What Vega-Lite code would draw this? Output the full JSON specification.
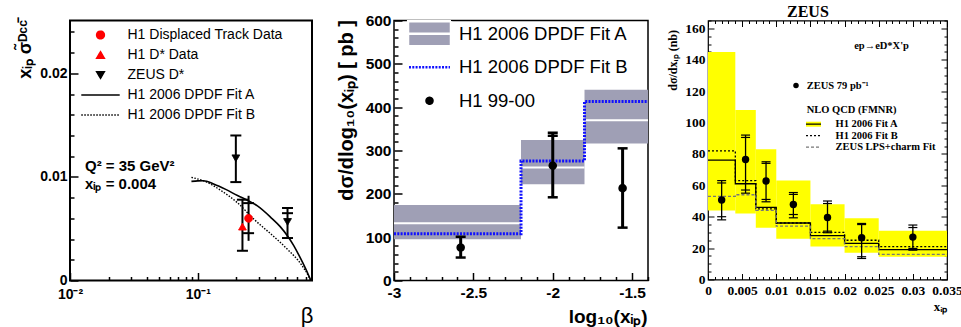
{
  "$schema": "https://vega.github.io/schema/vega-lite/v6.json",
  "background": "white",
  "padding": {"left": 14, "top": 2.5, "right": 0, "bottom": 0},
  "autosize": {"type": "pad"},
  "config": {
    "font": "Liberation Sans",
    "axis": {"grid": false, "domain": false, "tickColor": "black", "labelColor": "black", "titleColor": "black", "labelFlush": false, "labelOverlap": false, "labelBound": false, "titlePadding": 0},
    "legend": {"padding": 0, "labelColor": "black", "labelLimit": 0, "titleColor": "black"},
    "view": {"stroke": "black"}
  },
  "datasets": {
    "p1A": [{"beta":0.089,"val":0.00957},{"beta":0.1,"val":0.00962},{"beta":0.11,"val":0.00963},{"beta":0.134,"val":0.0093},{"beta":0.165,"val":0.0088},{"beta":0.204,"val":0.0082},{"beta":0.249,"val":0.0077},{"beta":0.292,"val":0.0072},{"beta":0.371,"val":0.0061},{"beta":0.44,"val":0.0052},{"beta":0.502,"val":0.0043},{"beta":0.56,"val":0.0034},{"beta":0.619,"val":0.0024},{"beta":0.698,"val":0.0011},{"beta":0.764,"val":0.0}],
    "p1B": [{"beta":0.089,"val":0.00995},{"beta":0.112,"val":0.0096},{"beta":0.151,"val":0.0087},{"beta":0.204,"val":0.0075},{"beta":0.275,"val":0.0059},{"beta":0.371,"val":0.0045},{"beta":0.502,"val":0.0030},{"beta":0.638,"val":0.0016},{"beta":0.741,"val":0.0003},{"beta":0.76,"val":0.0}],
    "p1pts": [
      {"series":"H1 Displaced Track Data","beta":0.249,"val":0.0060,"lo":0.00383,"hi":0.00818},
      {"series":"H1 D* Data","beta":0.223,"val":0.0052,"lo":0.00287,"hi":0.0078},
      {"series":"ZEUS D*","beta":0.198,"val":0.0118,"lo":0.0095,"hi":0.0140},
      {"series":"ZEUS D*","beta":0.502,"val":0.00565,"lo":0.0041,"hi":0.0070}
    ],
    "p1caps": [{"beta":0.249,"c":0.00457},{"beta":0.249,"c":0.00747},{"beta":0.223,"c":0.00287},{"beta":0.223,"c":0.0078},{"beta":0.198,"c":0.0095},{"beta":0.198,"c":0.0140},{"beta":0.502,"c":0.0041},{"beta":0.502,"c":0.0065},{"beta":0.502,"c":0.0070}],
    "p2bands": [{"x0":-3,"x1":-2.2,"lo":95,"hi":174,"mid":132},{"x0":-2.2,"x1":-1.8,"lo":222,"hi":324,"mid":261},{"x0":-1.8,"x1":-1.4,"lo":316,"hi":440,"mid":370}],
    "p2fitB": [{"x":-3,"v":108},{"x":-2.2,"v":276},{"x":-1.8,"v":413},{"x":-1.4,"v":413}],
    "p2pts": [{"series":"H1 99-00","x":-2.58,"v":76,"lo":53,"hi":101},{"series":"H1 99-00","x":-2.0,"v":265,"lo":192,"hi":341},{"series":"H1 99-00","x":-1.56,"v":213,"lo":122,"hi":305}],
    "p2caps": [{"x":-2.58,"c":53},{"x":-2.58,"c":101},{"x":-2.0,"c":192},{"x":-2.0,"c":334},{"x":-2.0,"c":341},{"x":-1.56,"c":122},{"x":-1.56,"c":305}],
    "p3bands": [{"x0":0,"x1":0.004,"lo":44,"hi":145,"band":"H1 2006 Fit A"},{"x0":0.004,"x1":0.007,"lo":42,"hi":108,"band":"H1 2006 Fit A"},{"x0":0.007,"x1":0.01,"lo":33,"hi":83,"band":"H1 2006 Fit A"},{"x0":0.01,"x1":0.015,"lo":26,"hi":63,"band":"H1 2006 Fit A"},{"x0":0.015,"x1":0.02,"lo":21,"hi":48,"band":"H1 2006 Fit A"},{"x0":0.02,"x1":0.025,"lo":17,"hi":39,"band":"H1 2006 Fit A"},{"x0":0.025,"x1":0.035,"lo":14.5,"hi":31,"band":"H1 2006 Fit A"}],
    "p3lines": [
      {"series":"H1 2006 Fit A","x":0,"v":76},{"series":"H1 2006 Fit A","x":0.004,"v":61},{"series":"H1 2006 Fit A","x":0.007,"v":46},{"series":"H1 2006 Fit A","x":0.01,"v":36},{"series":"H1 2006 Fit A","x":0.015,"v":28},{"series":"H1 2006 Fit A","x":0.02,"v":23},{"series":"H1 2006 Fit A","x":0.025,"v":19},{"series":"H1 2006 Fit A","x":0.035,"v":19},
      {"series":"H1 2006 Fit B","x":0,"v":82},{"series":"H1 2006 Fit B","x":0.004,"v":63},{"series":"H1 2006 Fit B","x":0.007,"v":45},{"series":"H1 2006 Fit B","x":0.01,"v":36},{"series":"H1 2006 Fit B","x":0.015,"v":30},{"series":"H1 2006 Fit B","x":0.02,"v":25},{"series":"H1 2006 Fit B","x":0.025,"v":21},{"series":"H1 2006 Fit B","x":0.035,"v":21},
      {"series":"ZEUS LPS+charm Fit","x":0,"v":53},{"series":"ZEUS LPS+charm Fit","x":0.004,"v":54},{"series":"ZEUS LPS+charm Fit","x":0.007,"v":44},{"series":"ZEUS LPS+charm Fit","x":0.01,"v":34},{"series":"ZEUS LPS+charm Fit","x":0.015,"v":26},{"series":"ZEUS LPS+charm Fit","x":0.02,"v":21},{"series":"ZEUS LPS+charm Fit","x":0.025,"v":16},{"series":"ZEUS LPS+charm Fit","x":0.035,"v":16}
    ],
    "p3pts": [
      {"series":"ZEUS  79 pb⁻¹","x":0.002,"v":50.6,"lo":38,"hi":63},
      {"series":"ZEUS  79 pb⁻¹","x":0.0055,"v":76.5,"lo":55,"hi":92},
      {"series":"ZEUS  79 pb⁻¹","x":0.0085,"v":62.7,"lo":49.5,"hi":75},
      {"series":"ZEUS  79 pb⁻¹","x":0.0125,"v":47.8,"lo":39.3,"hi":55.4},
      {"series":"ZEUS  79 pb⁻¹","x":0.0175,"v":39.5,"lo":29.8,"hi":50},
      {"series":"ZEUS  79 pb⁻¹","x":0.0225,"v":26.6,"lo":13.4,"hi":35.7},
      {"series":"ZEUS  79 pb⁻¹","x":0.03,"v":27,"lo":18.7,"hi":34.7}
    ],
    "p3caps": [
      {"x":0.002,"c":38},{"x":0.002,"c":40},{"x":0.002,"c":61.5},{"x":0.002,"c":63},
      {"x":0.0055,"c":55},{"x":0.0055,"c":57},{"x":0.0055,"c":90.5},{"x":0.0055,"c":92},
      {"x":0.0085,"c":49.5},{"x":0.0085,"c":51},{"x":0.0085,"c":74},{"x":0.0085,"c":75},
      {"x":0.0125,"c":39.3},{"x":0.0125,"c":41.4},{"x":0.0125,"c":54.2},{"x":0.0125,"c":55.4},
      {"x":0.0175,"c":29.8},{"x":0.0175,"c":30.8},{"x":0.0175,"c":48.4},{"x":0.0175,"c":50},
      {"x":0.0225,"c":13.4},{"x":0.0225,"c":14.5},{"x":0.0225,"c":35},{"x":0.0225,"c":35.7},
      {"x":0.03,"c":18.7},{"x":0.03,"c":19.8},{"x":0.03,"c":33.1},{"x":0.03,"c":34.7}
    ]
  },
  "bounds": "full",
  "spacing": 10,
  "resolve": {"scale": {"fill": "independent", "stroke": "independent", "shape": "independent", "strokeDash": "independent"}},
  "hconcat": [
    {
      "bounds": "flush",
      "spacing": 82,
      "resolve": {"scale": {"fill": "independent", "stroke": "independent", "shape": "independent", "strokeDash": "independent"}},
      "hconcat": [
        {
          "width": 242, "height": 260,
          "view": {"stroke": "black", "strokeWidth": 2},
          "resolve": {"axis": {"x": "independent", "y": "independent"}},
          "layer": [
            {
              "data": {"name": "p1A"},
              "mark": {"type": "line", "color": "black", "strokeWidth": 1.6, "interpolate": "monotone"},
              "encoding": {
                "x": {"field": "beta", "type": "quantitative", "scale": {"type": "log", "domain": [0.01, 0.78], "nice": false},
                  "axis": {"orient": "bottom", "values": [0.01, 0.1],
                    "labelExpr": "datum.value < 0.05 ? '10⁻²' : '10⁻¹'",
                    "tickSize": -8, "labelOverlap": false, "tickWidth": 1.5, "labelFont": "Liberation Sans", "labelFontWeight": "bold", "labelFontSize": 14, "labelPadding": 15, "labelBaseline": "top",
                    "title": "β", "titleFont": "Liberation Sans", "titleFontSize": 22, "titleFontWeight": "normal", "titleAnchor": "end", "titleAlign": "right", "titleBaseline": "alphabetic", "titleX": 243, "titleY": 42}},
                "y": {"field": "val", "type": "quantitative", "scale": {"domain": [0, 0.0251], "nice": false},
                  "axis": {"orient": "left", "values": [0, 0.01, 0.02],
                    "labelExpr": "datum.value == 0 ? '0' : (datum.value < 0.015 ? '0.01' : '0.02')",
                    "tickSize": -8, "labelOverlap": false, "tickWidth": 1.5, "labelFont": "Liberation Sans", "labelFontWeight": "bold", "labelFontSize": 14, "labelPadding": 11,
                    "title": "xᵢₚ σ̃ᴰᶜᶜ̄", "titleFont": "Liberation Sans", "titleFontSize": 18, "titleFontWeight": "bold", "titleAngle": -90, "titleAlign": "right", "titleBaseline": "middle", "titleX": -45, "titleY": -1}}
              }
            },
            {
              "data": {"name": "p1B"},
              "mark": {"type": "line", "color": "black", "strokeWidth": 1.4, "strokeDash": [1.5, 1.5], "interpolate": "monotone"},
              "encoding": {
                "x": {"field": "beta", "type": "quantitative",
                  "axis": {"orient": "bottom", "values": [0.02,0.03,0.04,0.05,0.06,0.07,0.08,0.09,0.2,0.3,0.4,0.5,0.6,0.7], "labels": false, "title": null, "tickSize": -4, "tickWidth": 1.5}},
                "y": {"field": "val", "type": "quantitative",
                  "axis": {"orient": "left", "values": [0.002,0.004,0.006,0.008,0.012,0.014,0.016,0.018,0.022,0.024], "labels": false, "title": null, "tickSize": -4, "tickWidth": 1.5}}
              }
            },
            {
              "data": {"name": "p1pts"},
              "mark": {"type": "rule", "color": "black", "strokeWidth": 2},
              "encoding": {"x": {"field": "beta", "type": "quantitative", "axis": null}, "y": {"field": "lo", "type": "quantitative", "axis": null}, "y2": {"field": "hi"}}
            },
            {
              "data": {"name": "p1caps"},
              "mark": {"type": "point", "shape": "stroke", "size": 121, "color": "black", "strokeWidth": 2, "opacity": 1},
              "encoding": {"x": {"field": "beta", "type": "quantitative", "axis": null}, "y": {"field": "c", "type": "quantitative", "axis": null}}
            },
            {
              "data": {"name": "p1pts"},
              "mark": {"type": "point", "size": 60, "opacity": 1, "strokeWidth": 1},
              "encoding": {
                "x": {"field": "beta", "type": "quantitative", "axis": null},
                "y": {"field": "val", "type": "quantitative", "axis": null},
                "fill": {"field": "series", "type": "nominal", "scale": {"domain": ["H1 Displaced Track Data", "H1 D* Data", "ZEUS D*", "H1 2006 DPDF Fit A", "H1 2006 DPDF Fit B"], "range": ["#ff0000", "#ff0000", "black", "transparent", "transparent"]},
                  "legend": {"orient": "none", "legendX": 23.5, "legendY": 7.5, "title": null, "symbolSize": 60, "symbolStrokeWidth": 1.5, "symbolOffset": 0, "labelOffset": 20, "labelFont": "Liberation Sans", "labelFontSize": 14, "rowPadding": 6, "padding": 0}},
                "stroke": {"field": "series", "type": "nominal", "scale": {"domain": ["H1 Displaced Track Data", "H1 D* Data", "ZEUS D*", "H1 2006 DPDF Fit A", "H1 2006 DPDF Fit B"], "range": ["#ff0000", "#ff0000", "black", "black", "black"]},
                  "legend": {"orient": "none", "legendX": 23.5, "legendY": 7.5, "title": null, "symbolSize": 60, "symbolStrokeWidth": 1.5, "symbolOffset": 0, "labelOffset": 20, "labelFont": "Liberation Sans", "labelFontSize": 14, "rowPadding": 6, "padding": 0}},
                "shape": {"field": "series", "type": "nominal", "scale": {"domain": ["H1 Displaced Track Data", "H1 D* Data", "ZEUS D*", "H1 2006 DPDF Fit A", "H1 2006 DPDF Fit B"], "range": ["circle", "triangle-up", "triangle-down", "M-4.96,0H4.96", "M-4.96,0H4.96"]},
                  "legend": {"orient": "none", "legendX": 23.5, "legendY": 7.5, "title": null, "symbolSize": 60, "symbolStrokeWidth": 1.5, "symbolOffset": 0, "labelOffset": 20, "labelFont": "Liberation Sans", "labelFontSize": 14, "rowPadding": 6, "padding": 0}},
                "strokeDash": {"field": "series", "type": "nominal", "scale": {"domain": ["H1 Displaced Track Data", "H1 D* Data", "ZEUS D*", "H1 2006 DPDF Fit A", "H1 2006 DPDF Fit B"], "range": [[1,0],[1,0],[1,0],[1,0],[1.5,1.5]]},
                  "legend": {"orient": "none", "legendX": 23.5, "legendY": 7.5, "title": null, "symbolSize": 60, "symbolStrokeWidth": 1.5, "symbolOffset": 0, "labelOffset": 20, "labelFont": "Liberation Sans", "labelFontSize": 14, "rowPadding": 6, "padding": 0}}
              }
            },
            {
              "data": {"values": [{"note": "Q² = 35 GeV²"}]},
              "mark": {"type": "text", "align": "left", "baseline": "alphabetic", "font": "Liberation Sans", "fontWeight": "bold", "fontSize": 15, "color": "black"},
              "encoding": {"x": {"datum": 0.0131, "axis": null}, "y": {"datum": 0.0106, "axis": null}, "text": {"field": "note"}}
            },
            {
              "data": {"values": [{"note": "xᵢₚ = 0.004"}]},
              "mark": {"type": "text", "align": "left", "baseline": "alphabetic", "font": "Liberation Sans", "fontWeight": "bold", "fontSize": 15, "color": "black"},
              "encoding": {"x": {"datum": 0.0131, "axis": null}, "y": {"datum": 0.0088, "axis": null}, "text": {"field": "note"}}
            }
          ]
        },
        {
          "width": 254, "height": 260,
          "view": {"stroke": "black", "strokeWidth": 1.5},
          "resolve": {"axis": {"x": "independent", "y": "independent"}},
          "layer": [
            {
              "data": {"name": "p2bands"},
              "mark": {"type": "rect", "color": "#9f9fb5"},
              "encoding": {
                "x": {"field": "x0", "type": "quantitative", "scale": {"domain": [-3, -1.4], "nice": false, "zero": false},
                  "axis": {"orient": "bottom", "values": [-3, -2.5, -2, -1.5],
                    "labelExpr": "'' + datum.value",
                    "tickSize": -8, "labelOverlap": false, "tickWidth": 1.5, "labelFont": "Liberation Sans", "labelFontWeight": "bold", "labelFontSize": 15.5, "labelPadding": 13, "labelBaseline": "top",
                    "title": "log₁₀(xᵢₚ)", "titleFont": "Liberation Sans", "titleFontSize": 19, "titleFontWeight": "bold", "titleAnchor": "end", "titleAlign": "right", "titleBaseline": "alphabetic", "titleX": 253, "titleY": 42}},
                "x2": {"field": "x1"},
                "y": {"field": "lo", "type": "quantitative", "scale": {"domain": [0, 600], "nice": false},
                  "axis": {"orient": "left", "values": [0, 100, 200, 300, 400, 500, 600],
                    "labelExpr": "'' + datum.value",
                    "tickSize": -8, "labelOverlap": false, "tickWidth": 1.5, "labelFont": "Liberation Sans", "labelFontWeight": "bold", "labelFontSize": 15.5, "labelPadding": 11,
                    "title": "dσ/dlog₁₀(xᵢₚ) [ pb ]", "titleFont": "Liberation Sans", "titleFontSize": 20, "titleFontWeight": "bold", "titleAngle": -90, "titleAlign": "right", "titleBaseline": "middle", "titleX": -48, "titleY": -1}},
                "y2": {"field": "hi"}
              }
            },
            {
              "data": {"name": "p2bands"},
              "mark": {"type": "rule", "color": "white", "strokeWidth": 2},
              "encoding": {
                "x": {"field": "x0", "type": "quantitative",
                  "axis": {"orient": "bottom", "values": [-2.9,-2.8,-2.7,-2.6,-2.4,-2.3,-2.2,-2.1,-1.9,-1.8,-1.7,-1.6,-1.4], "labels": false, "title": null, "tickSize": -4, "tickWidth": 1.5}},
                "x2": {"field": "x1"},
                "y": {"field": "mid", "type": "quantitative",
                  "axis": {"orient": "left", "values": [20,40,60,80,120,140,160,180,220,240,260,280,320,340,360,380,420,440,460,480,520,540,560,580], "labels": false, "title": null, "tickSize": -4, "tickWidth": 1.5}}
              }
            },
            {
              "data": {"name": "p2fitB"},
              "mark": {"type": "line", "color": "#1010ff", "strokeWidth": 3, "strokeDash": [2, 1.3], "interpolate": "step-after"},
              "encoding": {"x": {"field": "x", "type": "quantitative", "axis": null}, "y": {"field": "v", "type": "quantitative", "axis": null}}
            },
            {
              "data": {"name": "p2pts"},
              "mark": {"type": "rule", "color": "black", "strokeWidth": 3},
              "encoding": {"x": {"field": "x", "type": "quantitative", "axis": null}, "y": {"field": "lo", "type": "quantitative", "axis": null}, "y2": {"field": "hi"}}
            },
            {
              "data": {"name": "p2caps"},
              "mark": {"type": "point", "shape": "stroke", "size": 100, "color": "black", "strokeWidth": 2.5, "opacity": 1},
              "encoding": {"x": {"field": "x", "type": "quantitative", "axis": null}, "y": {"field": "c", "type": "quantitative", "axis": null}}
            },
            {
              "data": {"name": "p2pts"},
              "mark": {"type": "point", "size": 400, "opacity": 1, "strokeWidth": 2.5},
              "encoding": {
                "x": {"field": "x", "type": "quantitative", "axis": null},
                "y": {"field": "v", "type": "quantitative", "axis": null},
                "fill": {"field": "series", "type": "nominal", "scale": {"domain": ["H1 2006 DPDF Fit A", "H1 2006 DPDF Fit B", "H1 99-00"], "range": ["#9f9fb5", "transparent", "black"]},
                  "legend": {"orient": "none", "legendX": 12.75, "legendY": -0.5, "title": null, "clipHeight": 27.5, "symbolSize": 400, "symbolStrokeWidth": 2.5, "symbolOffset": 11.25, "labelOffset": 18, "labelFont": "Liberation Sans", "labelFontSize": 18.5, "rowPadding": 5.5, "padding": 0}},
                "stroke": {"field": "series", "type": "nominal", "scale": {"domain": ["H1 2006 DPDF Fit A", "H1 2006 DPDF Fit B", "H1 99-00"], "range": ["white", "#1010ff", "black"]},
                  "legend": {"orient": "none", "legendX": 12.75, "legendY": -0.5, "title": null, "clipHeight": 27.5, "symbolSize": 400, "symbolStrokeWidth": 2.5, "symbolOffset": 11.25, "labelOffset": 18, "labelFont": "Liberation Sans", "labelFontSize": 18.5, "rowPadding": 5.5, "padding": 0}},
                "shape": {"field": "series", "type": "nominal", "scale": {"domain": ["H1 2006 DPDF Fit A", "H1 2006 DPDF Fit B", "H1 99-00"], "range": ["M-2.15,-1.25H2.15V1.25H-2.15Z M-2.15,0H2.15", "M-2.05,0H2.05", "M-0.3,0A0.3,0.3,0,1,0,0.3,0A0.3,0.3,0,1,0,-0.3,0Z"]},
                  "legend": {"orient": "none", "legendX": 12.75, "legendY": -0.5, "title": null, "clipHeight": 27.5, "symbolSize": 400, "symbolStrokeWidth": 2.5, "symbolOffset": 11.25, "labelOffset": 18, "labelFont": "Liberation Sans", "labelFontSize": 18.5, "rowPadding": 5.5, "padding": 0}},
                "strokeDash": {"field": "series", "type": "nominal", "scale": {"domain": ["H1 2006 DPDF Fit A", "H1 2006 DPDF Fit B", "H1 99-00"], "range": [[1,0],[2,1.3],[1,0]]},
                  "legend": {"orient": "none", "legendX": 12.75, "legendY": -0.5, "title": null, "clipHeight": 27.5, "symbolSize": 400, "symbolStrokeWidth": 2.5, "symbolOffset": 11.25, "labelOffset": 18, "labelFont": "Liberation Sans", "labelFontSize": 18.5, "rowPadding": 5.5, "padding": 0}}
              }
            }
          ]
        }
      ]
    },
    {
      "width": 239, "height": 259,
      "view": {"stroke": "black", "strokeWidth": 1.2},
      "title": {"text": "ZEUS", "anchor": "start", "frame": "group", "dx": 79, "dy": 8.5, "font": "Liberation Serif", "fontSize": 16, "fontWeight": "bold", "offset": 2, "color": "black"},
      "resolve": {"axis": {"x": "independent", "y": "independent"}},
      "layer": [
        {
          "data": {"name": "p3bands"},
          "mark": {"type": "rect"},
          "encoding": {
            "x": {"field": "x0", "type": "quantitative", "scale": {"domain": [0, 0.035], "nice": false},
              "axis": {"orient": "bottom", "values": [0,0.001,0.002,0.003,0.004,0.005,0.006,0.007,0.008,0.009,0.01,0.011,0.012,0.013,0.014,0.015,0.016,0.017,0.018,0.019,0.02,0.021,0.022,0.023,0.024,0.025,0.026,0.027,0.028,0.029,0.03,0.031,0.032,0.033,0.034,0.035],
                "labelExpr": "abs(datum.value*200 - round(datum.value*200)) < 0.01 ? (datum.value == 0 ? '0' : format(datum.value, '.3~f')) : ''",
                "tickSize": {"condition": {"test": "abs(datum.value*200 - round(datum.value*200)) < 0.01", "value": -6}, "value": -3},
                "labelOverlap": false, "tickWidth": 1, "labelFont": "Liberation Serif", "labelFontWeight": "bold", "labelFontSize": 13.5, "labelPadding": 10, "labelBaseline": "top",
                "title": "xᵢₚ", "titleFont": "Liberation Serif", "titleFontSize": 13, "titleFontWeight": "bold", "titleAnchor": "end", "titleAlign": "right", "titleBaseline": "alphabetic", "titleX": 239, "titleY": 31}},
            "x2": {"field": "x1"},
            "y": {"field": "lo", "type": "quantitative", "scale": {"domain": [0, 165], "nice": false},
              "axis": {"orient": "left", "values": [0,5,10,15,20,25,30,35,40,45,50,55,60,65,70,75,80,85,90,95,100,105,110,115,120,125,130,135,140,145,150,155,160,165],
                "labelExpr": "datum.value % 20 == 0 ? '' + datum.value : ''",
                "tickSize": {"condition": {"test": "datum.value % 20 == 0", "value": -6}, "value": -3},
                "labelOverlap": false, "tickWidth": 1, "labelFont": "Liberation Serif", "labelFontWeight": "bold", "labelFontSize": 13.5, "labelPadding": 9,
                "title": "dσ/dxᵢₚ (nb)", "titleFont": "Liberation Serif", "titleFontSize": 12, "titleFontWeight": "bold", "titleAngle": -90, "titleAlign": "right", "titleBaseline": "middle", "titleX": -36, "titleY": 9}},
            "y2": {"field": "hi"},
            "fill": {"field": "band", "type": "nominal", "scale": {"domain": ["H1 2006 Fit A"], "range": ["#ffff00"]},
              "legend": {"orient": "none", "legendX": 98.7, "legendY": 98.45, "title": null, "symbolType": "M-3,-1H3V1H-3Z", "symbolSize": 25, "symbolStrokeWidth": 0, "symbolOffset": 1.55, "labelOpacity": 0, "labelFontSize": 10.5, "padding": 0}}
          }
        },
        {
          "data": {"name": "p3lines"},
          "mark": {"type": "line", "interpolate": "step-after", "strokeWidth": 1.3},
          "encoding": {
            "x": {"field": "x", "type": "quantitative",
              "axis": {"orient": "top", "values": [0,0.001,0.002,0.003,0.004,0.005,0.006,0.007,0.008,0.009,0.01,0.011,0.012,0.013,0.014,0.015,0.016,0.017,0.018,0.019,0.02,0.021,0.022,0.023,0.024,0.025,0.026,0.027,0.028,0.029,0.03,0.031,0.032,0.033,0.034,0.035],
                "labels": false, "title": null,
                "tickSize": {"condition": {"test": "abs(datum.value*200 - round(datum.value*200)) < 0.01", "value": -6}, "value": -3}, "tickWidth": 1}},
            "y": {"field": "v", "type": "quantitative",
              "axis": {"orient": "right", "values": [0,5,10,15,20,25,30,35,40,45,50,55,60,65,70,75,80,85,90,95,100,105,110,115,120,125,130,135,140,145,150,155,160,165],
                "labels": false, "title": null,
                "tickSize": {"condition": {"test": "datum.value % 20 == 0", "value": -6}, "value": -3}, "tickWidth": 1}},
            "stroke": {"field": "series", "type": "nominal", "scale": {"domain": ["H1 2006 Fit A", "H1 2006 Fit B", "ZEUS LPS+charm Fit"], "range": ["black", "black", "#777777"]},
              "legend": {"orient": "none", "legendX": 98.7, "legendY": 84.25, "title": "NLO QCD (FMNR)", "titleFont": "Liberation Serif", "titleFontSize": 10.5, "titleFontWeight": "bold", "titlePadding": 3.7, "symbolType": "M-3,0H3", "symbolSize": 25, "symbolStrokeWidth": 1.2, "symbolOffset": 1.55, "labelOffset": 16.8, "labelFont": "Liberation Serif", "labelFontSize": 10.5, "labelFontWeight": "bold", "rowPadding": 0.5, "padding": 0}},
            "strokeDash": {"field": "series", "type": "nominal", "scale": {"domain": ["H1 2006 Fit A", "H1 2006 Fit B", "ZEUS LPS+charm Fit"], "range": [[1,0],[2,2],[3,2]]},
              "legend": {"orient": "none", "legendX": 98.7, "legendY": 84.25, "title": "NLO QCD (FMNR)", "titleFont": "Liberation Serif", "titleFontSize": 10.5, "titleFontWeight": "bold", "titlePadding": 3.7, "symbolType": "M-3,0H3", "symbolSize": 25, "symbolStrokeWidth": 1.2, "symbolOffset": 1.55, "labelOffset": 16.8, "labelFont": "Liberation Serif", "labelFontSize": 10.5, "labelFontWeight": "bold", "rowPadding": 0.5, "padding": 0}}
          }
        },
        {
          "data": {"name": "p3pts"},
          "mark": {"type": "rule", "color": "black", "strokeWidth": 1.3},
          "encoding": {"x": {"field": "x", "type": "quantitative", "axis": null}, "y": {"field": "lo", "type": "quantitative", "axis": null}, "y2": {"field": "hi"}}
        },
        {
          "data": {"name": "p3caps"},
          "mark": {"type": "point", "shape": "stroke", "size": 81, "color": "black", "strokeWidth": 1.2, "opacity": 1},
          "encoding": {"x": {"field": "x", "type": "quantitative", "axis": null}, "y": {"field": "c", "type": "quantitative", "axis": null}}
        },
        {
          "data": {"name": "p3pts"},
          "mark": {"type": "point", "filled": true, "color": "black", "size": 55, "opacity": 1},
          "encoding": {
            "x": {"field": "x", "type": "quantitative", "axis": null},
            "y": {"field": "v", "type": "quantitative", "axis": null},
            "shape": {"field": "series", "type": "nominal", "scale": {"domain": ["ZEUS  79 pb⁻¹"], "range": ["circle"]},
              "legend": {"orient": "none", "legendX": 82.75, "legendY": 59.75, "title": null, "symbolSize": 30, "symbolStrokeWidth": 0, "symbolFillColor": "black", "symbolOffset": 0, "labelOffset": 5.45, "labelFont": "Liberation Serif", "labelFontSize": 10.5, "labelFontWeight": "bold", "padding": 0}}
          }
        },
        {
          "data": {"values": [{"note": "ep→eD*X'p"}]},
          "mark": {"type": "text", "align": "left", "baseline": "middle", "font": "Liberation Serif", "fontWeight": "bold", "fontSize": 10.5, "color": "black"},
          "encoding": {"x": {"datum": 0.0214, "axis": null}, "y": {"datum": 149, "axis": null}, "text": {"field": "note"}}
        }
      ]
    }
  ]
}
